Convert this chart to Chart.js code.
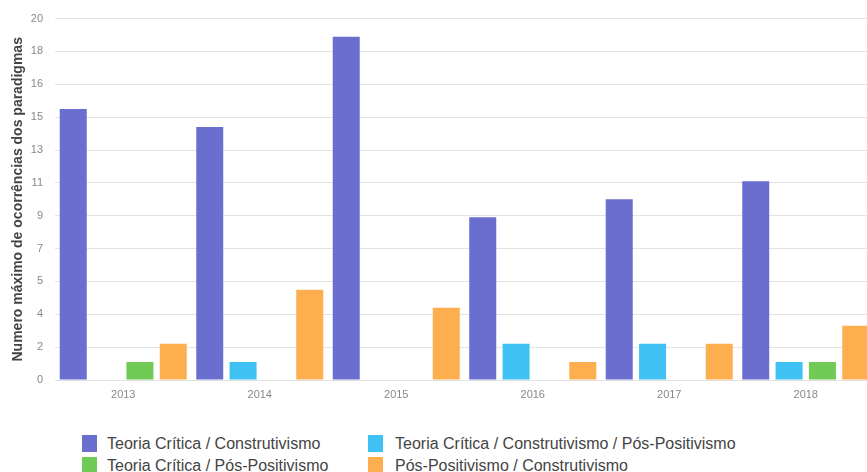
<!DOCTYPE html>
<html>
<head>
<meta charset="utf-8">
<script src="https://cdn.jsdelivr.net/npm/chart.js@4"></script>
<style>
  html, body { margin: 0; padding: 0; background: #fff; overflow: hidden; }
  body { width: 867px; height: 472px; position: relative; }
  #wrap { position: absolute; left: 0; top: 0; width: 874px; height: 410px; }
  #legend { position: absolute; left: 0; top: 435px; font-family: "Liberation Sans", Arial, sans-serif; font-size: 16px; color: #444; }
  .item { position: absolute; white-space: nowrap; height: 18px; line-height: 18px; }
  .item span.box { position: absolute; left: 0; top: 0; width: 15px; height: 17px; }
  .item span.txt { position: absolute; top: 0; }
</style>
</head>
<body>
<div id="wrap"><canvas id="chart"></canvas></div>
<div id="legend"></div>
<script>
// data
const years = ['2013', '2014', '2015', '2016', '2017', '2018'];
const seriesLabels = [
    'Teoria Crítica / Construtivismo',
    'Teoria Crítica / Construtivismo / Pós-Positivismo',
    'Teoria Crítica / Pós-Positivismo',
    'Pós-Positivismo / Construtivismo'
];
const tcConstrutivismo = [15, 14, 19, 9, 10, 11];
const tcConstrPos = [0, 1, 0, 2, 2, 1];
const tcPos = [1, 0, 0, 0, 0, 1];
const posConstr = [2, 5, 4, 1, 2, 3];
const yTickLabels = ['0', '2', '4', '5', '7', '9', '11', '13', '15', '16', '18', '20'];
const yMax = 20;

const colors = ['#6a6ecf', '#3fc2f3', '#6fca56', '#fdae4f'];
const seriesValues = [tcConstrutivismo, tcConstrPos, tcPos, posConstr];

const ctx = document.getElementById('chart');
const chart = new Chart(ctx, {
    type: 'bar',
    data: {
        labels: years,
        datasets: seriesValues.map((vals, i) => ({
            label: seriesLabels[i],
            data: vals,
            backgroundColor: colors[i],
            borderWidth: 0,
            categoryPercentage: 0.977,
            barPercentage: 0.81
        }))
    },
    options: {
        responsive: true,
        maintainAspectRatio: false,
        animation: false,
        layout: { padding: { top: 17, right: 0, left: 0, bottom: 0 } },
        plugins: {
            legend: { display: false },
            tooltip: { enabled: false }
        },
        scales: {
            x: {
                grid: { display: false, drawTicks: false },
                border: { display: false },
                ticks: {
                    color: '#888',
                    font: { family: 'Liberation Sans', size: 11 },
                    padding: 8
                },
                afterFit: axis => { axis.height = 30; }
            },
            y: {
                min: 0,
                max: yMax,
                border: { display: false },
                grid: { color: '#e3e3e3', drawTicks: false },
                afterBuildTicks: axis => {
                    axis.ticks = yTickLabels.map((t, i) => ({ value: i * yMax / (yTickLabels.length - 1) }));
                },
                ticks: {
                    color: '#888',
                    font: { family: 'Liberation Sans', size: 11 },
                    padding: 12,
                    callback: (value, index) => yTickLabels[index]
                },
                title: {
                    display: true,
                    text: 'Numero máximo de ocorrências dos paradigmas',
                    color: '#444',
                    font: { family: 'Liberation Sans', size: 14, weight: 'bold' },
                    padding: { top: 10, bottom: 0 }
                },
                afterFit: axis => { axis.width = 55; }
            }
        }
    }
});

// html legend, two columns as in the picture
const legendPos = [
    { left: 82, top: 0 },
    { left: 368, top: 0 },
    { left: 82, top: 22 },
    { left: 368, top: 22 }
];
const legend = document.getElementById('legend');
chart.data.datasets.forEach((ds, i) => {
    const item = document.createElement('div');
    item.className = 'item';
    item.style.left = legendPos[i].left + 'px';
    item.style.top = legendPos[i].top + 'px';
    item.innerHTML = '<span class="box" style="background:' + ds.backgroundColor + '"></span>' +
        '<span class="txt" style="left:' + (i % 2 === 0 ? 25 : 27) + 'px">' + ds.label + '</span>';
    legend.appendChild(item);
});
</script>
</body>
</html>
